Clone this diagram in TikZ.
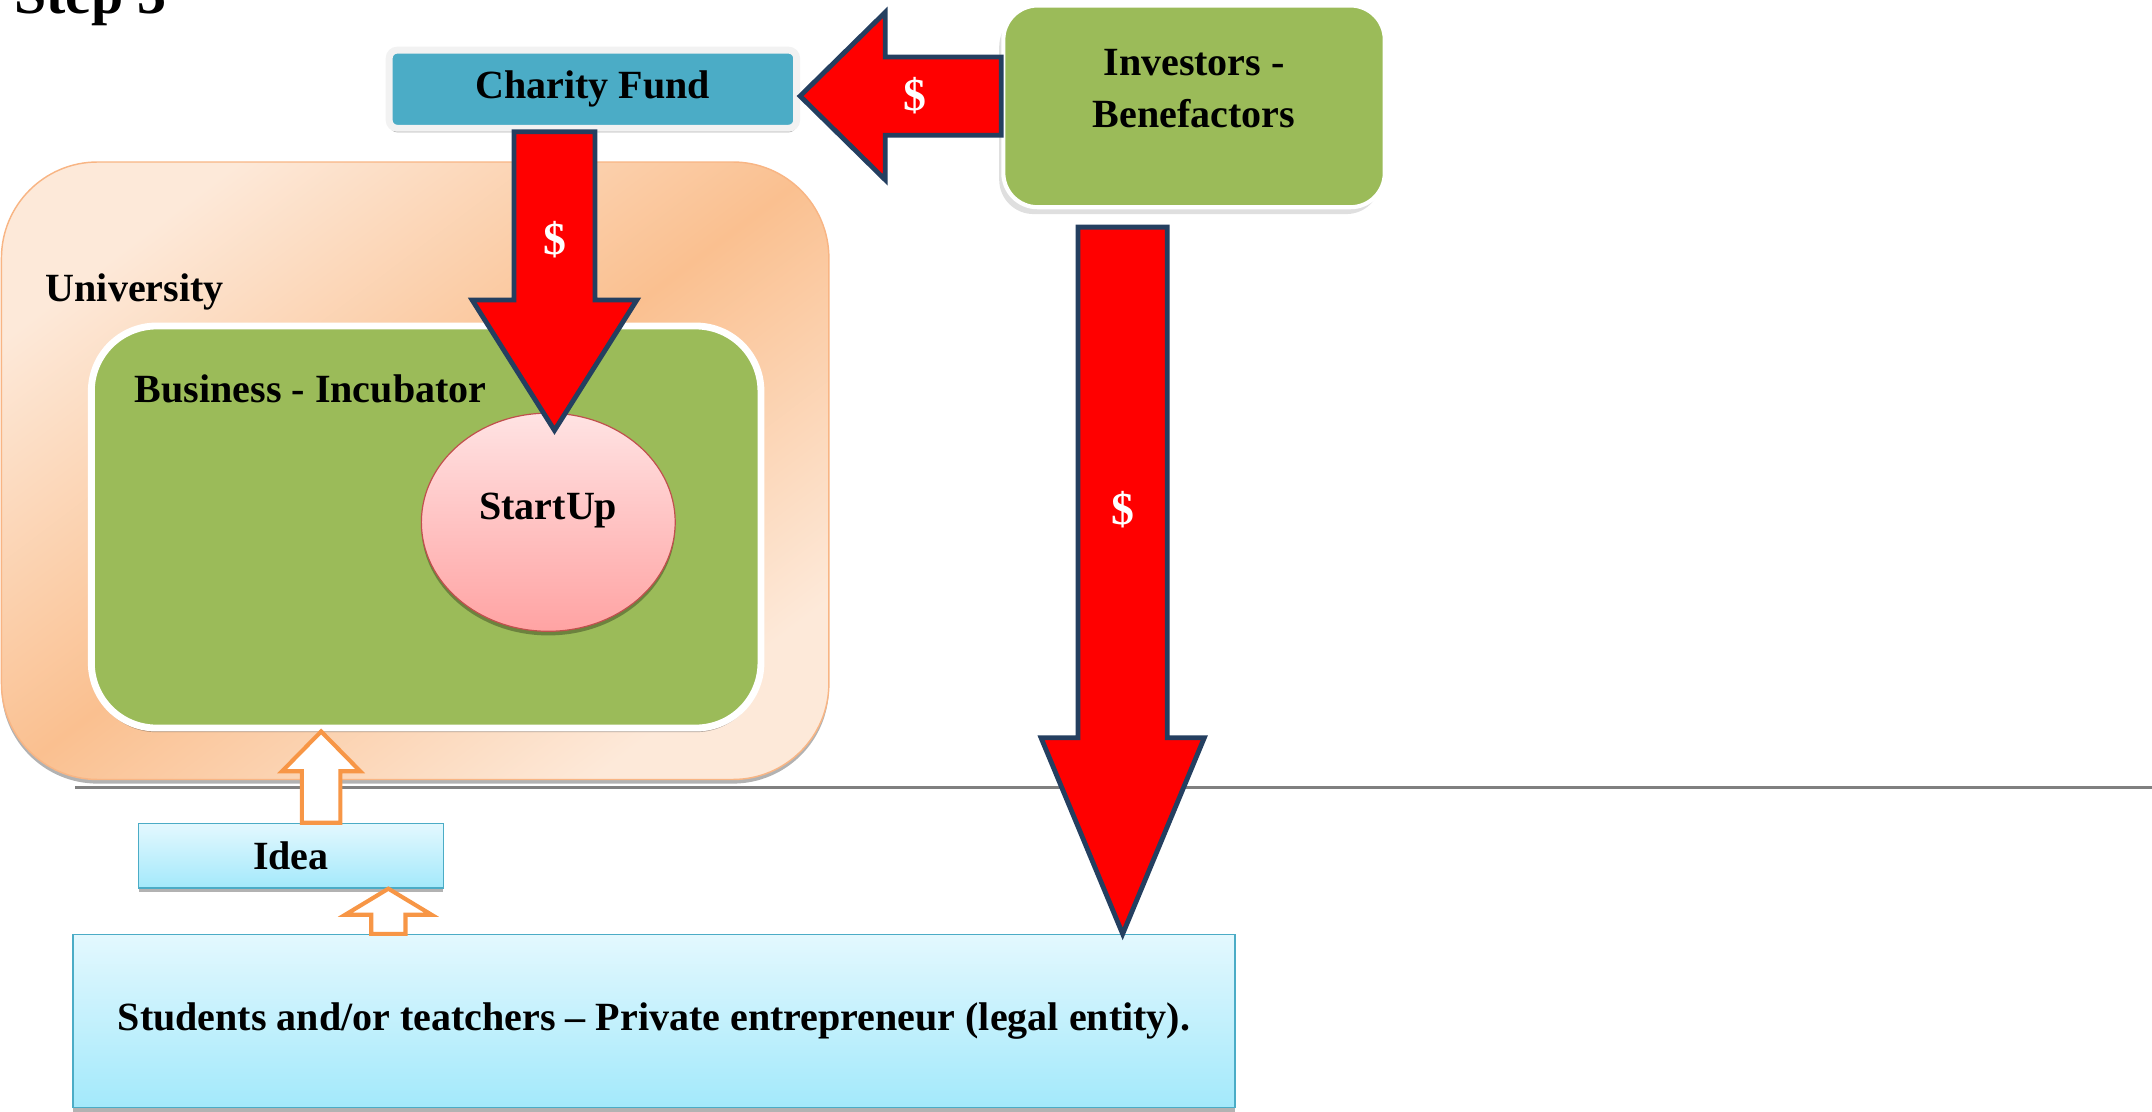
\documentclass[tikz,border=0pt]{standalone}
\usepackage{fontspec}
\setmainfont{Liberation Serif}
\usetikzlibrary{calc, shapes.geometric, shadows}

\definecolor{peach}{HTML}{FDE9D9}
\definecolor{apricot}{HTML}{FAC090}
\definecolor{apricotline}{HTML}{F8B584}
\definecolor{leafgreen}{HTML}{9BBB59}
\definecolor{fundblue}{HTML}{4BACC6}
\definecolor{cashred}{HTML}{FF0000}
\definecolor{navyline}{HTML}{243F60}
\definecolor{ideaorange}{HTML}{F79646}
\definecolor{icetop}{HTML}{E3F8FE}
\definecolor{icebottom}{HTML}{A3E9FB}
\definecolor{pinktop}{HTML}{FFE3E3}
\definecolor{pinkbottom}{HTML}{FFA3A3}
\definecolor{pinkline}{HTML}{C0504D}

\tikzset{
  blockarrow/.style n args = {3}{
    to path = {
      ($(\tikztostart)!#1!90:(\tikztotarget)$)
      -- ($(\tikztotarget)!#3!(\tikztostart)!#1!-90:(\tikztostart)$)
      -- ($(\tikztotarget)!#3!(\tikztostart)!#2!-90:(\tikztostart)$)
      -- (\tikztotarget)
      -- ($(\tikztotarget)!#3!(\tikztostart)!#2!90:(\tikztostart)$)
      -- ($(\tikztotarget)!#3!(\tikztostart)!#1!90:(\tikztostart)$)
      -- ($(\tikztostart)!#1!-90:(\tikztotarget)$)
      -- cycle
    }
  }
}

\begin{document}
\begin{tikzpicture}[
    x = 0.02cm, y = -0.02cm,
    every node/.style = {inner sep = 0pt, font = \fontsize{16.6}{21.5}\selectfont\bfseries},
    boxshadow/.style = {drop shadow = {shadow xshift = 0pt, shadow yshift = -0.06cm,
      fill = black, opacity = 0.3}},
    unibox/.style = {rectangle, rounded corners = 1.4cm, draw = apricotline, line width = 0.6pt,
      left color = peach, right color = peach, middle color = apricot, shading angle = 37,
      boxshadow},
    incubox/.style = {rectangle, rounded corners = 0.95cm, fill = leafgreen, draw = white,
      line width = 0.1cm, boxshadow},
    fundbox/.style = {rectangle, rounded corners = 0.12cm, fill = fundblue, draw = gray!10,
      line width = 0.1cm, boxshadow},
    investorbox/.style = {rectangle, rounded corners = 0.5cm, fill = leafgreen, draw = white,
      line width = 0.06cm, drop shadow = {shadow xshift = -0.06cm, shadow yshift = -0.1cm,
      fill = gray, opacity = 0.25}},
    icebox/.style = {rectangle, draw = fundblue, line width = 0.6pt, top color = icetop,
      bottom color = icebottom, boxshadow},
    casharrow/.style = {draw = navyline, fill = cashred, line width = 2pt},
    ideaarrow/.style = {draw = ideaorange, fill = white, line width = 1.7pt},
    dollar/.style = {text = white, font = \fontsize{19}{23}\selectfont\bfseries},
    divider/.style = {draw = gray, line width = 1.4pt}
  ]
  \useasboundingbox (0, 0) rectangle (1568, 810);

  \node (steptitle) [anchor = base west, font = \fontsize{24}{29}\selectfont\bfseries]
    at (10, 10) {Step 3};

  \node (university) [unibox, minimum width = 12.06cm, minimum height = 9cm]
    at (302.5, 343) {};
  \node (unilabel) [anchor = base west] at (33, 220) {University};
  \node (incubator) [incubox, minimum width = 9.76cm, minimum height = 5.86cm]
    at (310.5, 384) {};
  \node (incubatorlabel) [anchor = base west] at (98, 293) {Business - Incubator};
  \node (startup) [ellipse, draw = pinkline, line width = 0.5pt, top color = pinktop,
    bottom color = pinkbottom, minimum width = 3.7cm, minimum height = 3.18cm, boxshadow]
    at (399.5, 380.5) {};
  \node (startuptext) at ([yshift = 0.17cm] startup.center) {StartUp};

  \node (fund) [fundbox, minimum width = 5.94cm, minimum height = 1.14cm]
    at (432, 65) {Charity Fund};
  \node (investors) [investorbox, minimum width = 5.56cm, minimum height = 2.94cm]
    at (870, 77.5) {};
  \node (investorstext) [align = center] at ([yshift = 0.26cm] investors.center)
    {Investors -\\Benefactors};

  \draw [divider] (55, 574) -- (1568, 574);

  \node (idea) [icebox, minimum width = 4.44cm, minimum height = 0.94cm]
    at (212, 623.5) {Idea};
  \node (students) [icebox, minimum width = 16.94cm, minimum height = 2.52cm]
    at (476.5, 744) {Students and/or teatchers – Private entrepreneur (legal entity).};

  \coordinate (fundin) at ([yshift = -0.1cm] fund.east);
  \coordinate (investorsout) at (investors.west |- fundin);
  \draw [casharrow, blockarrow = {0.57cm}{1.22cm}{1.24cm}] (investorsout) to (fundin);

  \coordinate (fundout) at ([xshift = -0.56cm] fund.south);
  \coordinate (startupin) at ($(fundout |- startup.north) + (0, 13)$);
  \draw [casharrow, blockarrow = {0.59cm}{1.2cm}{1.9cm}] (fundout) to (startupin);

  \coordinate (benefactorsout) at ([shift = {(-52, 13)}] investors.south);
  \coordinate (studentsin) at (benefactorsout |- students.north);
  \draw [casharrow, blockarrow = {0.65cm}{1.19cm}{2.86cm}] (benefactorsout) to (studentsin);

  \coordinate (ideaout) at ([xshift = 0.44cm] idea.north);
  \coordinate (incubatorin) at (ideaout |- incubator.south);
  \draw [ideaarrow, blockarrow = {0.28cm}{0.57cm}{0.58cm}] (ideaout) to (incubatorin);

  \coordinate (ideain) at ([xshift = 1.42cm] idea.south);
  \coordinate (studentsout) at (ideain |- students.north);
  \draw [ideaarrow, blockarrow = {0.25cm}{0.63cm}{0.38cm}] (studentsout) to (ideain);

  \node (cashfund) [dollar] at ($(investorsout)!0.43!(fundin)$) {\$};
  \node (cashstartup) [dollar] at ($(fundout)!0.36!(startupin)$) {\$};
  \node (cashstudents) [dollar] at ($(benefactorsout)!0.4!(studentsin)$) {\$};
\end{tikzpicture}
\end{document}
